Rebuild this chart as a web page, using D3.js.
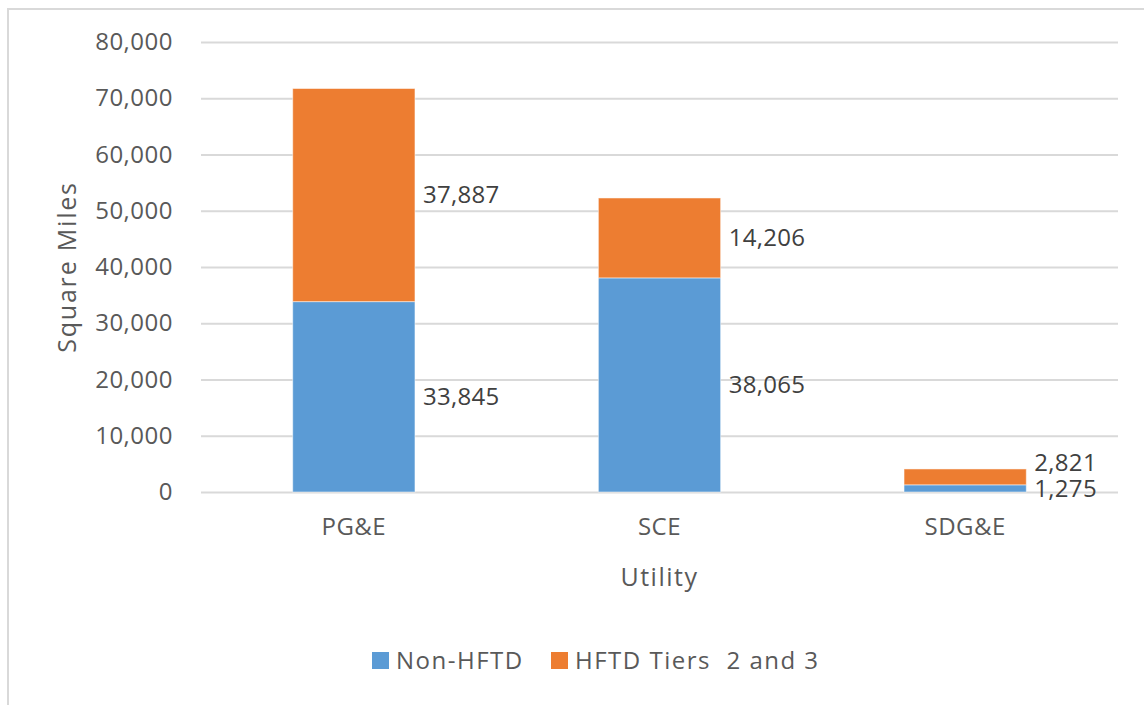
<!DOCTYPE html>
<html>
<head>
<meta charset="utf-8">
<script src="https://cdn.jsdelivr.net/npm/d3@7"></script>
<style>
  body { margin: 0; background: #fff; }
  text { font-family: "Open Sans", sans-serif; }
</style>
</head>
<body>
<svg id="chart" width="1144" height="705"></svg>
<script>

// data
var utilities = ["PG&E", "SCE", "SDG&E"];
var nonHFTD = [33845, 38065, 1275];
var hftd = [37887, 14206, 2821];
var seriesNames = ["Non-HFTD", "HFTD Tiers  2 and 3"];
var seriesColors = ["#5B9BD5", "#ED7D31"];
var yTicks = [0, 10000, 20000, 30000, 40000, 50000, 60000, 70000, 80000];

var svg = d3.select("#chart");

var plotLeft = 201,
	plotRight = 1118,
	plotTop = 42,
	plotBottom = 492;

//outer frame of the chart area (runs off the right and bottom edge)
svg.append("rect")
	.attr("x", 8)
	.attr("y", 9)
	.attr("width", 1160)
	.attr("height", 720)
	.attr("fill", "none")
	.attr("stroke", "#d9d9d9")
	.attr("stroke-width", 2);

var x = d3.scaleBand()
	.domain(utilities)
	.range([plotLeft, plotRight])
	.paddingInner(0.6)
	.paddingOuter(0.3);

var y = d3.scaleLinear()
	.domain([0, 80000])
	.range([plotBottom, plotTop]);

var fmt = d3.format(",");

//gridlines + tick labels
var yAxis = svg.append("g")
	.attr("transform", "translate(" + plotLeft + ",0)")
	.call(d3.axisLeft(y)
		.tickValues(yTicks)
		.tickSize(-(plotRight - plotLeft))
		.tickPadding(28)
		.tickFormat(fmt));
yAxis.select(".domain").remove();
yAxis.selectAll(".tick line")
	.attr("stroke", "#d9d9d9")
	.attr("stroke-width", 2);
yAxis.selectAll(".tick text")
	.attr("fill", "#595959")
	.attr("font-size", "24px")
	.attr("letter-spacing", "0.5px")
	.attr("font-family", "Open Sans, sans-serif");

//stack the two series
var rows = utilities.map(function(u, i){
	return {utility: u, s0: nonHFTD[i], s1: hftd[i]};
});
var stack = d3.stack().keys(["s0", "s1"])(rows);

var layers = svg.append("g").selectAll("g")
	.data(stack)
	.enter().append("g")
	.attr("fill", function(d, i){ return seriesColors[i]; });

layers.selectAll("rect")
	.data(function(d){ return d; })
	.enter().append("rect")
	.attr("x", function(d){ return x(d.data.utility); })
	.attr("width", x.bandwidth())
	.attr("y", function(d){ return y(d[1]); })
	.attr("height", function(d){ return y(d[0]) - y(d[1]); })
	.attr("stroke", "#ffffff")
	.attr("stroke-opacity", 0.5)
	.attr("stroke-width", 1);

//data labels right of each segment, pushed apart when they collide
var labels = [];
stack.forEach(function(layer){
	layer.forEach(function(d){
		labels.push({
			utility: d.data.utility,
			value: d[1] - d[0],
			ly: y((d[0] + d[1]) / 2),
			stackIndex: layer.index
		});
	});
});
utilities.forEach(function(u){
	var lo = labels.filter(function(l){ return l.utility == u && l.stackIndex == 0; })[0];
	var hi = labels.filter(function(l){ return l.utility == u && l.stackIndex == 1; })[0];
	if (lo.ly - hi.ly < 26) { hi.ly = lo.ly - 26; }
});

svg.append("g").selectAll("text")
	.data(labels)
	.enter().append("text")
	.attr("x", function(d){ return x(d.utility) + x.bandwidth() + 8; })
	.attr("y", function(d){ return d.ly; })
	.attr("dy", "0.35em")
	.attr("fill", "#404040")
	.attr("font-size", "24px")
	.attr("letter-spacing", "0.3px")
	.text(function(d){ return fmt(d.value); });

//category labels
svg.append("g").selectAll("text")
	.data(utilities)
	.enter().append("text")
	.attr("x", function(d){ return x(d) + x.bandwidth() / 2; })
	.attr("y", 527)
	.attr("dy", "0.35em")
	.attr("text-anchor", "middle")
	.attr("fill", "#595959")
	.attr("font-size", "24px")
	.attr("letter-spacing", "0.5px")
	.text(function(d){ return d; });

//axis titles
svg.append("text")
	.attr("x", (plotLeft + plotRight) / 2)
	.attr("y", 577)
	.attr("dy", "0.35em")
	.attr("text-anchor", "middle")
	.attr("fill", "#595959")
	.attr("font-size", "25px")
	.attr("letter-spacing", "1.5px")
	.text("Utility");

svg.append("text")
	.attr("transform", "translate(67," + (plotTop + plotBottom) / 2 + ") rotate(-90)")
	.attr("dy", "0.35em")
	.attr("text-anchor", "middle")
	.attr("fill", "#595959")
	.attr("font-size", "25px")
	.attr("letter-spacing", "1.8px")
	.text("Square Miles");

//legend
var legendX = [372, 551];
var legend = svg.append("g").selectAll("g")
	.data(seriesNames)
	.enter().append("g")
	.attr("transform", function(d, i){ return "translate(" + legendX[i] + ",652)"; });

legend.append("rect")
	.attr("width", 17)
	.attr("height", 17)
	.attr("fill", function(d, i){ return seriesColors[i]; });

legend.append("text")
	.attr("x", 24)
	.attr("y", 8.5)
	.attr("dy", "0.35em")
	.attr("fill", "#595959")
	.attr("font-size", "24px")
	.attr("letter-spacing", "1.5px")
	.style("white-space", "pre")
	.text(function(d){ return d; });

</script>
</body>
</html>
